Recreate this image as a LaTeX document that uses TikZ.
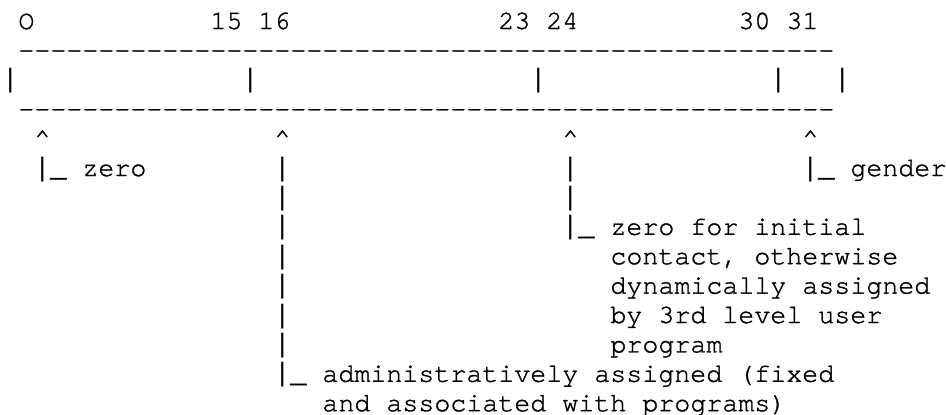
\documentclass[tikz,border=0pt]{standalone}
\usepackage{fontspec}
\newfontfamily\monofont{texgyrecursor-regular.otf}[Ligatures=NoCommon,FakeBold=1.2]
\newfontfamily\barfont{Liberation Mono}
\newcommand{\asciibar}{{\barfont|}}
\begin{document}
\begin{tikzpicture}[x=8pt,y=-14.7pt,
  chr/.style={anchor=base west,inner sep=0pt,font=\monofont\fontsize{13.33pt}{14.7pt}\selectfont}]
\useasboundingbox (-1pt,-0.2pt) rectangle (472pt,-207.2pt);
% bit numbers
\node[chr] (b0) at (1,1) {O};
\node[chr] (b15) at (13,1) {15};
\node[chr] (b16) at (16,1) {16};
\node[chr] (b23) at (31,1) {23};
\node[chr] (b24) at (34,1) {24};
\node[chr] (b30) at (46,1) {30};
\node[chr] (b31) at (49,1) {31};
% the field box
\foreach \c in {1,...,51}
\node[chr] (top\c) at (\c,2) {-};
\foreach \c in {0,15,33,48,52}
\node[chr] (sep\c) at (\c,3) {\asciibar};
\foreach \c in {1,...,51}
\node[chr] (bot\c) at (\c,4) {-};
\foreach \c in {2,17,35,50}
\node[chr] (up\c) at (\c,5) {\textasciicircum};
% field labels
\node[chr] (zero) at (2,6) {\asciibar\_ zero};
\node[chr] (gender) at (50,6) {\asciibar\_ gender};
\foreach \r in {6,7}
\node[chr] (dyn\r) at (35,\r) {\asciibar};
\node[chr] (dyn) at (35,8) {\asciibar\_ zero for initial};
\node[chr] (dyn9) at (38,9) {contact, otherwise};
\node[chr] (dyn10) at (38,10) {dynamically assigned};
\node[chr] (dyn11) at (38,11) {by 3rd level user};
\node[chr] (dyn12) at (38,12) {program};
\foreach \r in {6,...,12}
\node[chr] (adm\r) at (17,\r) {\asciibar};
\node[chr] (adm) at (17,13) {\asciibar\_ administratively assigned (fixed};
\node[chr] (adm14) at (20,14) {and associated with programs)};
\end{tikzpicture}
\end{document}
